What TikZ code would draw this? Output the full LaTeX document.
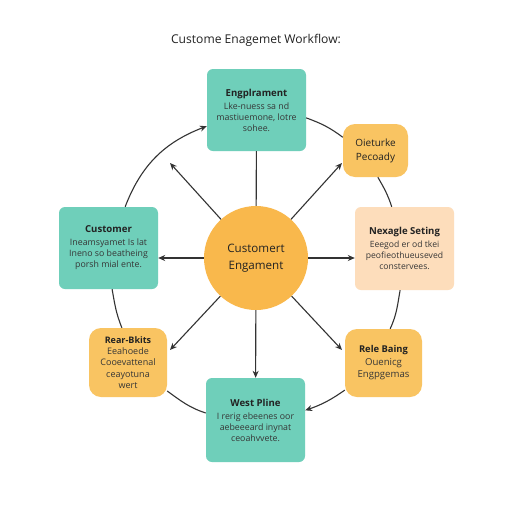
\documentclass[tikz,border=0pt]{standalone}
\usepackage{fontspec}
\setmainfont{Open Sans}
\usetikzlibrary{arrows.meta}
\definecolor{teal1}{HTML}{6FCFBA}
\definecolor{orng}{HTML}{F9C462}
\definecolor{orngc}{HTML}{F9B84C}
\definecolor{peach}{HTML}{FDDDBB}
\definecolor{ink}{HTML}{222222}
\definecolor{bodytxt}{HTML}{363636}
\definecolor{wire}{HTML}{333333}
\tikzset{
  tbox/.style={fill=teal1,rounded corners=6pt,minimum width=99pt,minimum height=82pt,inner sep=0pt,align=center,text=bodytxt,font=\fontsize{8.8}{11}\selectfont},
  obox/.style={fill=orng,rounded corners=12pt,inner sep=0pt,align=center,text=bodytxt},
  pbox/.style={fill=peach,rounded corners=6pt,minimum width=99pt,minimum height=83pt,inner sep=0pt,align=center,text=bodytxt,font=\fontsize{8.6}{11}\selectfont},
  wr/.style={draw=wire,line width=1.1pt},
  arr/.style={wr,-{Stealth[length=7pt,width=6pt]}},
}
\newcommand{\boxttl}[1]{{\fontsize{9.6}{11}\selectfont\bfseries\color{ink}#1}}
\begin{document}
\begin{tikzpicture}[x=1pt,y=-1pt]
\useasboundingbox (0,0) rectangle (512,512);
\fill[white] (0,0) rectangle (512,512);
\node[font=\fontsize{12.1}{14}\selectfont,text=ink] (title) at (256,40) {Custome Enagemet Workflow:};

\node[tbox] (eng) at (256.5,110) {\boxttl{Engplrament}\\[2pt]Lke-nuess sa nd\\mastiuemone, lotre\\sohee.};
\node[obox,minimum width=65pt,minimum height=53pt,text=ink,font=\fontsize{10}{14}\selectfont] (obj) at (375.5,150.5) {Oieturke\\Pecoady};
\node[pbox] (nex) at (404.5,248.5) {\boxttl{Nexagle Seting}\\[2pt]Eeegod er od tkei\\peofieothueuseved\\constervees.};
\node[obox,minimum width=77pt,minimum height=68pt,font=\fontsize{9.6}{12.5}\selectfont] (rele) at (383.5,363) {{\fontsize{9.4}{11}\selectfont\bfseries\color{ink}Rele Baing}\\Ouenicg\\Engpgemas};
\node[tbox,minimum height=84pt] (west) at (255.5,420) {\boxttl{West Pline}\\[2pt]I rerig ebeenes oor\\aebeeeard inynat\\ceoahvvete.};
\node[obox,minimum width=78pt,minimum height=69pt,font=\fontsize{9}{11.3}\selectfont] (rear) at (128,362.5) {{\fontsize{9}{10.5}\selectfont\bfseries\color{ink}Rear-Bkits}\\Eeahoede\\Cooevattenal\\ceayotuna\\wert};
\node[tbox] (cust) at (108.5,248) {\boxttl{Customer}\\[2pt]Ineamsyamet Is lat\\Ineno so beatheing\\porsh mial ente.};

\node[circle,fill=orngc,minimum size=104pt,inner sep=0pt,align=center,text=ink,font=\fontsize{11.6}{17}\selectfont] (c) at (256,258) {Customert\\Engament};

% radial connectors
\coordinate (ul) at (170,163);
\coordinate (ur) at (342,163);
\coordinate (dl) at (170,350);
\coordinate (dr) at (342,350);
\draw[wr] (c) -- (eng);
\draw[arr] (c) -- (ul);
\draw[arr] (c) -- (ur);
\draw[arr] (c) -- (dl);
\draw[arr] (c) -- (dr);
\draw[arr] (c) -- (c -| cust.east);
\draw[arr] (c) -- (c -| nex.west);
\draw[arr] (c) -- (west);

% outer ring
\draw[arr] (cust.68) to[out=69,in=201] (eng.198);
\draw[wr] (eng.-9) to[out=-20,in=143] (obj.158);
\draw[wr] (obj.-85) to[out=-60,in=108] (nex.107);
\draw[wr] (nex.264) to[out=-100,in=65] (rele.79);
\draw[arr] (rele.215) to[out=215,in=19] (west.11);
\draw[wr] (rear.-36) to[out=-36,in=162] (west.172);
\draw[wr] (cust.-85) to[out=-80,in=112] (rear.100);
\end{tikzpicture}
\end{document}
